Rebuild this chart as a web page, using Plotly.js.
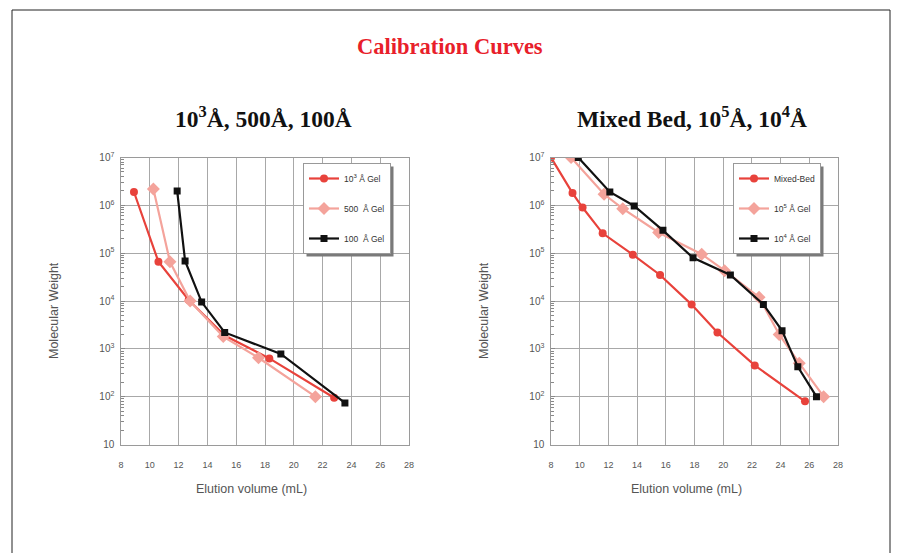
<!DOCTYPE html>
<html>
<head>
<meta charset="utf-8">
<script src="https://cdn.plot.ly/plotly-3.0.1.min.js"></script>
<style>html,body{margin:0;padding:0;background:#fff;}#chart{width:901px;height:553px;}</style>
</head>
<body>
<div id="chart"></div>
<script>
// ---- Data ----
// Left panel: 10^3 Å, 500 Å, 100 Å
const gel1000_x = [8.9, 10.6, 12.7, 15.2, 18.3, 22.8];
const gel1000_y = [1.9e6, 6.6e4, 1.05e4, 1.9e3, 630, 95];
const gel500_x  = [10.25, 11.4, 12.8, 15.1, 17.55, 21.5];
const gel500_y  = [2.2e6, 6.6e4, 1.0e4, 1.8e3, 650, 100];
const gel100_x  = [11.9, 12.45, 13.6, 15.2, 19.1, 23.55];
const gel100_y  = [2.0e6, 6.9e4, 9.5e3, 2.2e3, 780, 74];

// Right panel: Mixed Bed, 10^5 Å, 10^4 Å
const mixed_x  = [8.0, 9.5, 10.2, 11.6, 13.7, 15.6, 17.8, 19.6, 22.2, 25.7];
const mixed_y  = [1e7, 1.8e6, 9e5, 2.6e5, 9.3e4, 3.5e4, 8.4e3, 2.2e3, 4.5e2, 80];
const gel1e5_x = [9.4, 11.7, 13.0, 15.5, 18.5, 20.1, 22.5, 23.9, 25.3, 27.0];
const gel1e5_y = [1e7, 1.7e6, 8.5e5, 2.7e5, 9.5e4, 4.3e4, 1.2e4, 2.0e3, 5.0e2, 100];
const gel1e4_x = [9.9, 12.1, 13.8, 15.8, 17.9, 20.5, 22.8, 24.1, 25.2, 26.5];
const gel1e4_y = [1e7, 1.9e6, 9.7e5, 3.0e5, 8.0e4, 3.5e4, 8.5e3, 2.4e3, 4.2e2, 100];

const xTickVals = [8, 10, 12, 14, 16, 18, 20, 22, 24, 26, 28];
const yRangeLog = [1, 7];   // 10 .. 10^7, labelled 10, 10², ... 10⁷

const leftNames  = ['10<sup>3</sup> Å Gel', '500  Å Gel', '100  Å Gel'];
const rightNames = ['Mixed-Bed', '10<sup>5</sup> Å Gel', '10<sup>4</sup> Å Gel'];

const mainTitle = 'Calibration Curves';
const leftTitle = '10<sup>3</sup>Å, 500Å, 100Å';
const rightTitle = 'Mixed Bed, 10<sup>5</sup>Å, 10<sup>4</sup>Å';
const xTitle = 'Elution volume (mL)';
const yTitle = 'Molecular Weight';

// ---- Styling ----
const W = 901, H = 553;
const px = x => x / W;
const py = y => 1 - y / H;
const RED = '#e8423b', PINK = '#f4a39b', BLACK = '#111111';
const xTickFont = {family: 'Liberation Sans, Arial, sans-serif', size: 9, color: '#555'};
const yTickFont = {family: 'Liberation Sans, Arial, sans-serif', size: 8, color: '#555'};

function tr(x, y, name, color, symbol, size, xa, ya, leg, grp) {
  return {
    x: x, y: y, name: name, type: 'scatter', mode: 'lines+markers',
    line: {color: color, width: 2.2},
    marker: {color: color, symbol: symbol, size: size},
    xaxis: xa, yaxis: ya, legend: leg, legendgroup: grp
  };
}

const data = [
  tr(gel1000_x, gel1000_y, leftNames[0], RED, 'circle', 8, 'x', 'y', 'legend', 'a'),
  tr(gel500_x, gel500_y, leftNames[1], PINK, 'diamond', 10, 'x', 'y', 'legend', 'b'),
  tr(gel100_x, gel100_y, leftNames[2], BLACK, 'square', 7, 'x', 'y', 'legend', 'c'),
  tr(mixed_x, mixed_y, rightNames[0], RED, 'circle', 8, 'x2', 'y2', 'legend2', 'd'),
  tr(gel1e5_x, gel1e5_y, rightNames[1], PINK, 'diamond', 10, 'x2', 'y2', 'legend2', 'e'),
  tr(gel1e4_x, gel1e4_y, rightNames[2], BLACK, 'square', 7, 'x2', 'y2', 'legend2', 'f')
];

const yDomain = [py(444.5), py(157.5)];

function xax(domain, anchor) {
  return {
    domain: domain, anchor: anchor, range: [8, 28], tickvals: xTickVals,
    showgrid: true, gridcolor: '#a8a8a8', gridwidth: 1,
    showline: true, linecolor: '#9a9a9a', linewidth: 1, mirror: true,
    ticks: '', tickfont: xTickFont, ticklabelstandoff: 12, zeroline: false, fixedrange: true
  };
}
function yax(anchor) {
  return {
    domain: yDomain, anchor: anchor, type: 'log', range: yRangeLog,
    tickmode: 'linear', tick0: 0, dtick: 1, exponentformat: 'power',
    showgrid: true, gridcolor: '#a8a8a8', gridwidth: 1,
    showline: true, linecolor: '#9a9a9a', linewidth: 1, mirror: true,
    ticks: 'inside', ticklen: 4, tickwidth: 1, tickcolor: '#888',
    tickfont: yTickFont, ticklabelstandoff: 4, zeroline: false, fixedrange: true,
    minor: {ticks: 'inside', ticklen: 3, tickwidth: 1, tickcolor: '#888', showgrid: false}
  };
}

const legFont = {family: 'Liberation Sans, Arial, sans-serif', size: 8.5, color: '#333'};
function leg(x, y) {
  return {
    x: x, y: y, xanchor: 'left', yanchor: 'top', xref: 'paper', yref: 'paper',
    bgcolor: '#ffffff', bordercolor: '#999', borderwidth: 1,
    font: legFont, tracegroupgap: 11, itemwidth: 30
  };
}

function ann(text, x, y, font, extra) {
  return Object.assign({text: text, x: px(x), y: py(y), xref: 'paper', yref: 'paper',
    showarrow: false, xanchor: 'center', yanchor: 'middle', font: font}, extra || {});
}

const axFont = {family: 'Liberation Sans, Arial, sans-serif', size: 12.5, color: '#555'};
const subFont = {family: 'Liberation Serif, Times New Roman, serif', size: 23.5, color: '#111'};

const frameShapes = [
  {type: 'line', xref: 'paper', yref: 'paper', x0: px(12), x1: px(890), y0: py(10), y1: py(10), line: {color: '#222', width: 1}},
  {type: 'line', xref: 'paper', yref: 'paper', x0: px(12), x1: px(12), y0: py(10), y1: 0, line: {color: '#222', width: 1}},
  {type: 'line', xref: 'paper', yref: 'paper', x0: px(890), x1: px(890), y0: py(10), y1: 0, line: {color: '#222', width: 1}}
];

const layout = {
  width: W, height: H,
  margin: {l: 0, r: 0, t: 0, b: 0},
  paper_bgcolor: '#fff', plot_bgcolor: '#fff',
  showlegend: true,
  xaxis: xax([px(121), px(409)], 'y'),
  yaxis: yax('x'),
  xaxis2: xax([px(551), px(838)], 'y2'),
  yaxis2: yax('x2'),
  legend: leg(px(303), py(163)),
  legend2: leg(px(733), py(163)),
  annotations: [
    ann('<b>' + mainTitle + '</b>', 450, 47, {family: 'Liberation Serif, Times New Roman, serif', size: 22.5, color: '#e8202a'}),
    ann('<b>' + leftTitle + '</b>', 263, 117, subFont),
    ann('<b>' + rightTitle + '</b>', 692, 117, subFont),
    ann(xTitle, 251, 489, axFont),
    ann(xTitle, 686, 489, axFont),
    ann(yTitle, 54, 311, axFont, {textangle: -90}),
    ann(yTitle, 484, 311, axFont, {textangle: -90})
  ],
  shapes: frameShapes.slice()
};

Plotly.newPlot('chart', data, layout, {staticPlot: true, displayModeBar: false}).then(function (gd) {
  // drop shadow behind each legend box (offset 3px right/down)
  const root = gd.getBoundingClientRect();
  const shadows = [];
  ['legend', 'legend2'].forEach(function (cls) {
    const bg = gd.querySelector('g.' + cls + ' rect.bg');
    if (!bg) return;
    const b = bg.getBoundingClientRect();
    const l = b.left - root.left + 3, t = b.top - root.top + 3;
    shadows.push({type: 'rect', xref: 'paper', yref: 'paper', layer: 'above',
      x0: px(l), x1: px(l + b.width), y0: py(t + b.height), y1: py(t),
      fillcolor: '#7a7a7a', line: {width: 0}});
  });
  return Plotly.relayout(gd, {shapes: frameShapes.concat(shadows)});
});
</script>
</body>
</html>
